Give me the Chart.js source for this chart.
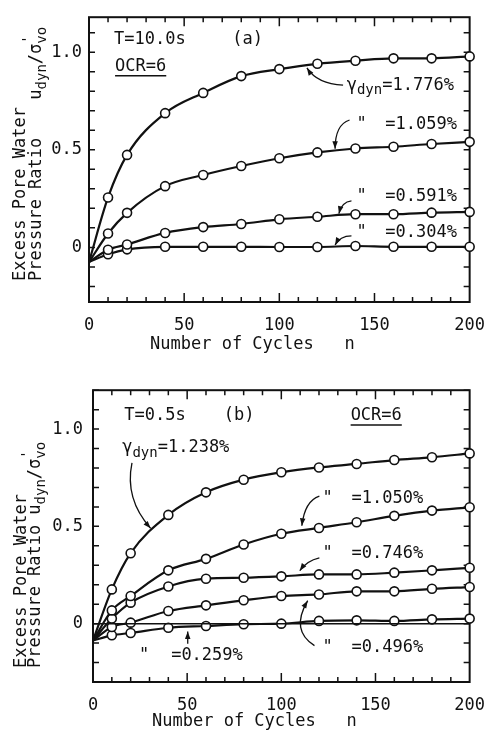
<!DOCTYPE html>
<html>
<head>
<meta charset="utf-8">
<script src="https://cdn.jsdelivr.net/npm/chart.js@4.4.0/dist/chart.umd.min.js"></script>
<style>
  html, body { margin: 0; background: #fff; overflow: hidden; }
  #wrap { position: relative; width: 498px; height: 737px; }
  canvas { position: absolute; left: 0; }
  #chartA { top: 0; }
  #chartB { top: 370px; }
</style>
</head>
<body>
<div id="wrap">
  <canvas id="chartA" width="498" height="360"></canvas>
  <canvas id="chartB" width="498" height="367"></canvas>
</div>
<script>
// number of loading cycles
const cycles = [0, 10, 20, 40, 60, 80, 100, 120, 140, 160, 180, 200];

// (a) T=10.0s, OCR=6
const a1776 = [-0.075, 0.256, 0.474, 0.688, 0.792, 0.878, 0.914, 0.941, 0.957, 0.969, 0.969, 0.979];
const a1059 = [-0.075, 0.071, 0.177, 0.314, 0.371, 0.417, 0.457, 0.487, 0.507, 0.516, 0.530, 0.541];
const a0591 = [-0.075, -0.012, 0.015, 0.074, 0.104, 0.120, 0.144, 0.157, 0.170, 0.170, 0.178, 0.182];
const a0304 = [-0.075, -0.035, -0.010, 0.003, 0.003, 0.003, 0.002, 0.002, 0.007, 0.003, 0.003, 0.003];

// (b) T=0.5s, OCR=6
const b1238 = [-0.087, 0.176, 0.362, 0.559, 0.675, 0.740, 0.778, 0.803, 0.821, 0.841, 0.855, 0.875];
const b1050 = [-0.087, 0.068, 0.142, 0.274, 0.333, 0.407, 0.462, 0.492, 0.521, 0.554, 0.581, 0.598];
const b0746 = [-0.087, 0.026, 0.108, 0.191, 0.231, 0.236, 0.243, 0.253, 0.253, 0.262, 0.274, 0.287];
const b0496 = [-0.087, -0.017, 0.005, 0.065, 0.094, 0.120, 0.142, 0.150, 0.166, 0.166, 0.179, 0.188];
const b0259 = [-0.087, -0.060, -0.048, -0.021, -0.012, -0.003, 0.000, 0.014, 0.017, 0.014, 0.022, 0.026];

// zero reference line in (b)
const refCycles = [0, 200];
const refLevel = [0, 0];

const MONO = '"DejaVu Sans Mono", monospace';
const INK = '#111';

function curve(vals) {
  return {
    data: cycles.map((n, i) => ({ x: n, y: vals[i] })),
    borderColor: INK,
    borderWidth: 2.2,
    pointRadius: c => c.dataIndex === 0 ? 0 : 4.5,
    pointBackgroundColor: '#fff',
    pointBorderColor: INK,
    pointBorderWidth: 1.6,
    cubicInterpolationMode: 'monotone',
    clip: false
  };
}

// text with subscripts, returns width
function drawRich(ctx, x, y, parts) {
  let cx = x;
  parts.forEach(p => {
    if (p.gap) { cx += p.gap; return; }
    ctx.font = (p.sub ? 14 : 17) + 'px ' + MONO;
    ctx.fillText(p.t, cx, y + (p.sub ? 5 : 0));
    if (p.prime) ctx.fillText("'", cx, y - 9);
    cx += ctx.measureText(p.t).width;
  });
  return cx - x;
}

function drawArrow(ctx, pts) {
  ctx.beginPath();
  ctx.moveTo(pts[0][0], pts[0][1]);
  if (pts.length === 2) ctx.lineTo(pts[1][0], pts[1][1]);
  else if (pts.length === 3) ctx.quadraticCurveTo(pts[1][0], pts[1][1], pts[2][0], pts[2][1]);
  else ctx.bezierCurveTo(pts[1][0], pts[1][1], pts[2][0], pts[2][1], pts[3][0], pts[3][1]);
  ctx.stroke();
  const e = pts[pts.length - 1], c = pts[pts.length - 2];
  const ang = Math.atan2(e[1] - c[1], e[0] - c[0]);
  ctx.beginPath();
  ctx.moveTo(e[0], e[1]);
  ctx.lineTo(e[0] - 8 * Math.cos(ang - 0.35), e[1] - 8 * Math.sin(ang - 0.35));
  ctx.lineTo(e[0] - 8 * Math.cos(ang + 0.35), e[1] - 8 * Math.sin(ang + 0.35));
  ctx.closePath();
  ctx.fill();
}

// box with inward ticks on all four sides
const framePlugin = {
  id: 'frame',
  beforeDatasetsDraw(chart) {
    const { ctx, chartArea: a, scales: { x, y } } = chart;
    ctx.save();
    ctx.strokeStyle = INK;
    ctx.lineWidth = 2;
    ctx.strokeRect(a.left, a.top, a.right - a.left, a.bottom - a.top);
    ctx.lineWidth = 1.5;
    ctx.beginPath();
    for (let n = 10; n < 200; n += 10) {
      const px = x.getPixelForValue(n);
      const len = n % 50 === 0 ? 9 : 5;
      ctx.moveTo(px, a.bottom); ctx.lineTo(px, a.bottom - len);
      ctx.moveTo(px, a.top); ctx.lineTo(px, a.top + len);
    }
    for (let k = Math.ceil(y.min * 10); k <= Math.floor(y.max * 10); k++) {
      const py = y.getPixelForValue(k / 10);
      ctx.moveTo(a.left, py); ctx.lineTo(a.left + 6, py);
      ctx.moveTo(a.right, py); ctx.lineTo(a.right - 6, py);
    }
    ctx.stroke();
    ctx.restore();
  }
};

function notesPlugin(cfg) {
  return {
    id: 'notes',
    afterDraw(chart) {
      const { ctx, chartArea: a, scales: { x, y } } = chart;
      ctx.save();
      ctx.fillStyle = INK;
      ctx.strokeStyle = INK;
      ctx.textBaseline = 'middle';
      ctx.textAlign = 'left';
      cfg.texts.forEach(t => {
        const px = x.getPixelForValue(t.n), py = y.getPixelForValue(t.v);
        const w = drawRich(ctx, px, py, t.parts);
        if (t.underline) {
          ctx.lineWidth = 1.5;
          ctx.beginPath();
          ctx.moveTo(px, py + 9); ctx.lineTo(px + w, py + 9);
          ctx.stroke();
        }
      });
      ctx.lineWidth = 1.3;
      cfg.arrows.forEach(p => {
        drawArrow(ctx, p.map(q => [x.getPixelForValue(q[0]), y.getPixelForValue(q[1])]));
      });
      // x axis title
      drawRich(ctx, a.left + cfg.xTitle[0], a.bottom + cfg.xTitle[1], [{ t: 'Number of Cycles   n' }]);
      // y axis title, rotated
      cfg.yTitle.forEach(line => {
        ctx.save();
        ctx.translate(a.left + line.dx, a.bottom + line.dy);
        ctx.rotate(-Math.PI / 2);
        drawRich(ctx, 0, 0, line.parts);
        ctx.restore();
      });
      ctx.restore();
    }
  };
}

const ratioSymbol = [{ t: 'u' }, { t: 'dyn', sub: 1 }, { t: '/σ' }, { t: 'vo', sub: 1, prime: 1 }];

function makeChart(id, datasets, yMin, yMax, pad, yW, xH, yPad, notes) {
  return new Chart(document.getElementById(id), {
    type: 'line',
    data: { datasets: datasets },
    options: {
      responsive: false,
      animation: false,
      devicePixelRatio: 1,
      layout: { padding: pad },
      plugins: { legend: { display: false }, tooltip: { enabled: false } },
      scales: {
        x: {
          type: 'linear', min: 0, max: 200,
          afterFit(s) { s.height = xH; },
          grid: { display: false, drawTicks: false },
          border: { display: false },
          ticks: {
            stepSize: 10, autoSkip: false, maxRotation: 0, padding: 13,
            font: { family: MONO, size: 17 }, color: INK,
            callback: v => v % 50 === 0 ? v : ''
          }
        },
        y: {
          type: 'linear', min: yMin, max: yMax,
          afterFit(s) { s.width = yW; },
          grid: { display: false, drawTicks: false },
          border: { display: false },
          ticks: {
            stepSize: 0.1, autoSkip: false, padding: yPad,
            font: { family: MONO, size: 17 }, color: INK,
            callback: v => {
              const k = Math.round(v * 10);
              return k === 0 ? '0' : k === 5 ? '0.5' : k === 10 ? '1.0' : '';
            }
          }
        }
      }
    },
    plugins: [framePlugin, notesPlugin(notes)]
  });
}

// Panel (a)
makeChart('chartA',
  [curve(a1776), curve(a1059), curve(a0591), curve(a0304)],
  -0.28, 1.18, { left: 0, top: 6, right: 16, bottom: 0 }, 89, 58, 7,
  {
    texts: [
      { n: 13.2, v: 1.064, parts: [{ t: 'T=10.0s' }] },
      { n: 75.3, v: 1.064, parts: [{ t: '(a)' }] },
      { n: 13.7, v: 0.926, parts: [{ t: 'OCR=6' }], underline: true },
      { n: 135.4, v: 0.832, parts: [{ t: 'γ' }, { t: 'dyn', sub: 1 }, { t: '=1.776%' }] },
      { n: 140.5, v: 0.629, parts: [{ t: '"' }] },
      { n: 155.7, v: 0.629, parts: [{ t: '=1.059%' }] },
      { n: 140.5, v: 0.262, parts: [{ t: '"' }] },
      { n: 155.7, v: 0.262, parts: [{ t: '=0.591%' }] },
      { n: 140.5, v: 0.074, parts: [{ t: '"' }] },
      { n: 155.7, v: 0.074, parts: [{ t: '=0.304%' }] }
    ],
    arrows: [
      [[133.5, 0.832], [120, 0.837], [114.5, 0.92]],
      [[136.9, 0.653], [129.3, 0.629], [129.3, 0.505]],
      [[137.9, 0.238], [132.8, 0.233], [131.3, 0.173]],
      [[137.9, 0.059], [131.8, 0.059], [129.3, 0.012]]
    ],
    xTitle: [61, 43],
    yTitle: [
      { dx: -68, dy: -21, parts: [{ t: 'Excess Pore Water' }] },
      { dx: -52, dy: -21, parts: [{ t: 'Pressure Ratio' }, { gap: 38 }].concat(ratioSymbol) }
    ]
  });

// Panel (b)
const refLine = {
  data: refCycles.map((n, i) => ({ x: n, y: refLevel[i] })),
  borderColor: INK, borderWidth: 1.5, pointRadius: 0, clip: false
};
makeChart('chartB',
  [refLine, curve(b1238), curve(b1050), curve(b0746), curve(b0496), curve(b0259)],
  -0.30, 1.20, { left: 0, top: 19, right: 19, bottom: 0 }, 93, 55, 10,
  {
    texts: [
      { n: 16.6, v: 1.067, parts: [{ t: 'T=0.5s' }] },
      { n: 69.4, v: 1.067, parts: [{ t: '(b)' }] },
      { n: 136.8, v: 1.067, parts: [{ t: 'OCR=6' }], underline: true },
      { n: 15.5, v: 0.903, parts: [{ t: 'γ' }, { t: 'dyn', sub: 1 }, { t: '=1.238%' }] },
      { n: 121.8, v: 0.641, parts: [{ t: '"' }] },
      { n: 137.3, v: 0.641, parts: [{ t: '=1.050%' }] },
      { n: 121.8, v: 0.359, parts: [{ t: '"' }] },
      { n: 137.3, v: 0.359, parts: [{ t: '=0.746%' }] },
      { n: 121.8, v: -0.123, parts: [{ t: '"' }] },
      { n: 137.3, v: -0.123, parts: [{ t: '=0.496%' }] },
      { n: 24.4, v: -0.164, parts: [{ t: '"' }] },
      { n: 41.5, v: -0.164, parts: [{ t: '=0.259%' }] }
    ],
    arrows: [
      [[20.7, 0.826], [17.6, 0.682], [23.3, 0.569], [30.6, 0.49]],
      [[120.2, 0.656], [112.4, 0.631], [110.9, 0.503]],
      [[120.2, 0.338], [113.5, 0.323], [109.8, 0.272]],
      [[117.6, -0.113], [104.7, -0.036], [114, 0.118]],
      [[50.3, -0.103], [50.3, -0.04]]
    ],
    xTitle: [59, 40],
    yTitle: [
      { dx: -71, dy: -14, parts: [{ t: 'Excess Pore Water' }] },
      { dx: -57, dy: -14, parts: [{ t: 'Pressure Ratio' }, { gap: 10 }].concat(ratioSymbol) }
    ]
  });
</script>
</body>
</html>
